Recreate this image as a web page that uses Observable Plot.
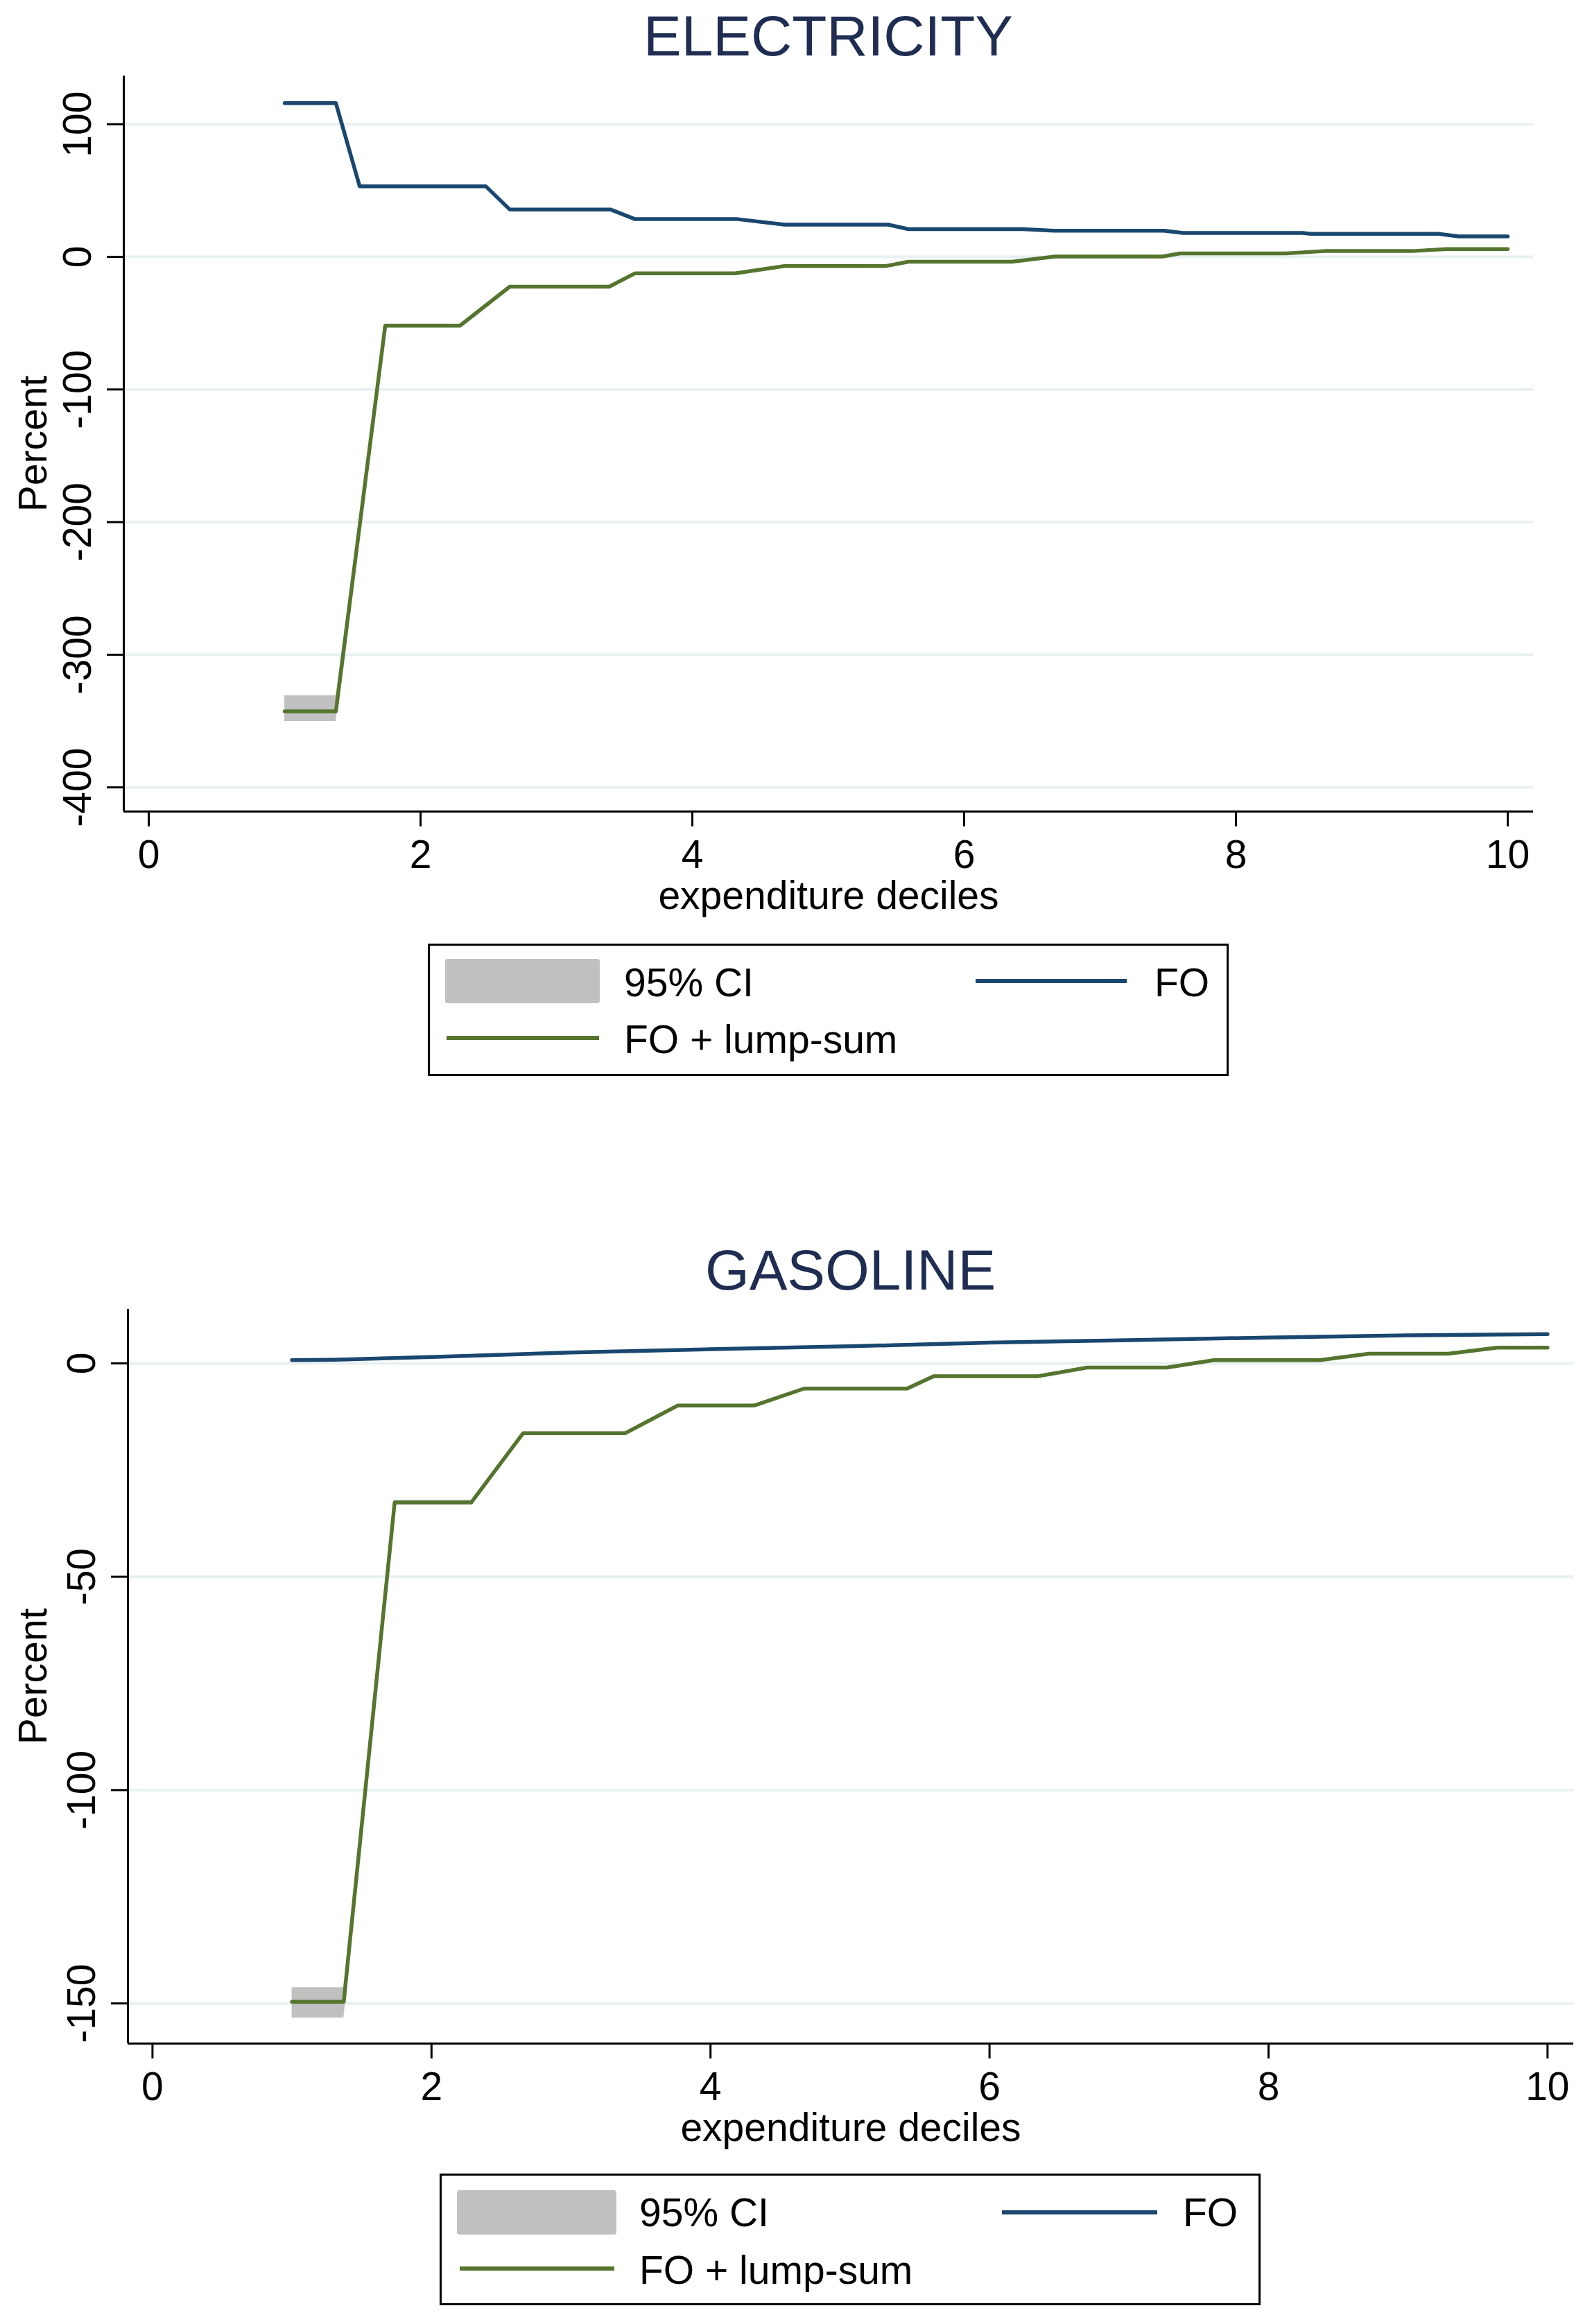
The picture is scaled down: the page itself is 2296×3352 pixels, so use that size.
<!DOCTYPE html>
<html><head><meta charset="utf-8">
<script src="https://cdn.jsdelivr.net/npm/d3@7"></script>
<script src="https://cdn.jsdelivr.net/npm/@observablehq/plot@0.6"></script>
<style>
html,body{margin:0;padding:0;background:#fff;overflow:hidden}
#page{position:relative;width:2296px;height:3352px;font-family:"Liberation Sans",Arial,Helvetica,sans-serif;background:#fff}
.title{position:absolute;text-align:center;font-size:82px;line-height:82px;color:#1f2d52;white-space:nowrap}
.legend{position:absolute;border:3px solid #000;box-sizing:border-box;background:#fff}
.lg{position:absolute;font-size:57px;line-height:57px;white-space:nowrap;color:#000}
.sw{position:absolute;background:#c0c0c0;border-radius:4px}
.ln{position:absolute;height:6px}
.svgbox{position:absolute;left:0}
</style></head>
<body><div id="page"></div>
<script>
// ---------- data ----------
const xTicks = [0, 2, 4, 6, 8, 10];
const elecYTicks = [100, 0, -100, -200, -300, -400];
const gasYTicks = [0, -50, -100, -150];

// ELECTRICITY – FO
const elecFOx  = [1, 1.377, 1.552, 2.481, 2.656, 3.397, 3.579, 4.334, 4.677, 5.44, 5.59, 6.43, 6.66, 7.47, 7.61, 8.49, 8.55, 9.49, 9.64, 10];
const elecFOy  = [115.9, 115.9, 53.1, 53.1, 35.7, 35.7, 28.4, 28.4, 24.3, 24.3, 20.9, 20.9, 19.7, 19.7, 18.0, 18.0, 17.3, 17.3, 15.4, 15.4];
const elecFOlo = [115.0, 115.0, 52.2, 52.2, 34.8, 34.8, 27.5, 27.5, 23.4, 23.4, 20.0, 20.0, 18.8, 18.8, 17.1, 17.1, 16.4, 16.4, 14.5, 14.5];
const elecFOhi = [116.8, 116.8, 54.0, 54.0, 36.6, 36.6, 29.3, 29.3, 25.2, 25.2, 21.8, 21.8, 20.6, 20.6, 18.9, 18.9, 18.2, 18.2, 16.3, 16.3];

// ELECTRICITY – FO + lump-sum
const elecLSx  = [1, 1.377, 1.740, 2.290, 2.656, 3.388, 3.579, 4.316, 4.677, 5.42, 5.59, 6.35, 6.67, 7.46, 7.59, 8.37, 8.65, 9.30, 9.55, 10];
const elecLSy  = [-342.7, -342.7, -51.9, -51.9, -22.5, -22.5, -12.4, -12.4, -7.0, -7.0, -3.7, -3.7, 0.2, 0.2, 2.6, 2.6, 4.35, 4.35, 5.9, 5.9];
const elecLSlo = [-350.2, -350.2, -53.4, -53.4, -23.5, -23.5, -13.3, -13.3, -7.9, -7.9, -4.6, -4.6, -0.7, -0.7, 1.7, 1.7, 3.4, 3.4, 5.0, 5.0];
const elecLShi = [-330.8, -330.8, -50.6, -50.6, -21.7, -21.7, -11.6, -11.6, -6.2, -6.2, -2.9, -2.9, 1.0, 1.0, 3.4, 3.4, 5.2, 5.2, 6.8, 6.8];

// GASOLINE – FO
const gasFOx  = [1, 1.3, 2, 3, 4, 5, 6, 7, 8, 9, 10];
const gasFOy  = [0.75, 0.85, 1.5, 2.55, 3.3, 4.0, 4.85, 5.45, 6.05, 6.55, 6.85];
const gasFOlo = [0.45, 0.55, 1.2, 2.25, 3.0, 3.7, 4.55, 5.15, 5.75, 6.25, 6.55];
const gasFOhi = [1.05, 1.15, 1.8, 2.85, 3.6, 4.3, 5.15, 5.75, 6.35, 6.85, 7.15];

// GASOLINE – FO + lump-sum
const gasLSx  = [1, 1.371, 1.736, 2.285, 2.656, 3.387, 3.764, 4.312, 4.672, 5.41, 5.60, 6.35, 6.70, 7.27, 7.61, 8.37, 8.72, 9.29, 9.64, 10];
const gasLSy  = [-149.6, -149.6, -32.6, -32.6, -16.4, -16.4, -9.9, -9.9, -5.9, -5.9, -3.0, -3.0, -1.0, -1.0, 0.75, 0.75, 2.25, 2.25, 3.7, 3.7];
const gasLSlo = [-153.4, -153.4, -33.2, -33.2, -16.8, -16.8, -10.2, -10.2, -6.2, -6.2, -3.3, -3.3, -1.3, -1.3, 0.45, 0.45, 1.95, 1.95, 3.4, 3.4];
const gasLShi = [-146.3, -146.3, -32.1, -32.1, -16.0, -16.0, -9.6, -9.6, -5.6, -5.6, -2.7, -2.7, -0.7, -0.7, 1.05, 1.05, 2.55, 2.55, 4.0, 4.0];

const legendLabels = ["95% CI", "FO", "FO + lump-sum"];

// ---------- styles ----------
const NAVY = "#1a476f", GREEN = "#55752f", CI = "#c0c0c0", GRID = "#e8f0f2";
const FONT = '"Liberation Sans", Arial, Helvetica, sans-serif';

function rows(xs, ys, lo, hi) {
  return xs.map((x, i) => ({x, y: ys[i], lo: lo[i], hi: hi[i]}));
}

function panel(cfg) {
  const series = cfg.series;
  const chart = Plot.plot({
    width: 2296,
    height: cfg.height,
    marginTop: cfg.mt, marginBottom: cfg.mb, marginLeft: cfg.ml, marginRight: cfg.mr,
    style: {fontFamily: FONT, fontSize: "57px", background: "#fff", color: "#000", overflow: "visible"},
    x: {domain: cfg.xDom},
    y: {domain: cfg.yDom},
    marks: [
      Plot.ruleY(cfg.yTicks, {stroke: GRID, strokeWidth: 4}),
      ...series.map(s => Plot.areaY(s.data, {x: "x", y1: "lo", y2: "hi", fill: CI})),
      ...series.map(s => Plot.line(s.data, {x: "x", y: "y", stroke: s.color, strokeWidth: 5.5, strokeLinejoin: "round", strokeLinecap: "round"})),
      Plot.ruleX([cfg.xDom[0]], {stroke: "#000", strokeWidth: 3}),
      Plot.ruleY([cfg.yDom[0]], {stroke: "#000", strokeWidth: 3}),
      Plot.axisX({ticks: xTicks, tickSize: 22, tickPadding: 19, strokeWidth: 3, tickFormat: d => String(d), label: null, fill: "#000"}),
      Plot.axisY({ticks: cfg.yTicks, tickSize: 24, tickPadding: 24, tickRotate: -90, textAnchor: "middle", lineAnchor: "bottom",
                  strokeWidth: 3, tickFormat: d => String(d), label: null, fill: "#000"}),
      Plot.text(["Percent"], {text: d => d, frameAnchor: "left", dx: cfg.labelDx, rotate: -90, textAnchor: "middle", lineAnchor: "bottom", fill: "#000"}),
      Plot.text(["expenditure deciles"], {text: d => d, frameAnchor: "bottom", dy: 140, textAnchor: "middle", lineAnchor: "bottom", fill: "#000"})
    ]
  });
  const box = document.createElement("div");
  box.className = "svgbox";
  box.style.top = cfg.top + "px";
  box.appendChild(chart);
  return box;
}

function legend(L) {
  const b = document.createElement("div");
  b.className = "legend";
  Object.assign(b.style, {left: L.left + "px", top: L.top + "px", width: L.w + "px", height: L.h + "px"});
  const add = (cls, st, txt) => {
    const e = document.createElement("div");
    e.className = cls;
    Object.assign(e.style, st);
    if (txt) e.textContent = txt;
    b.appendChild(e);
  };
  const o = 3;
  add("sw", {left: (L.sw[0] - o) + "px", top: (L.sw[1] - o) + "px", width: L.sw[2] + "px", height: L.sw[3] + "px"});
  add("lg", {left: (L.t1[0] - o) + "px", top: (L.t1[1] - o - 27.85) + "px"}, legendLabels[0]);
  add("ln", {left: (L.l1[0] - o) + "px", top: (L.l1[1] - o - 3) + "px", width: L.l1[2] + "px", background: NAVY});
  add("lg", {left: (L.t2[0] - o) + "px", top: (L.t2[1] - o - 27.85) + "px"}, legendLabels[1]);
  add("ln", {left: (L.l2[0] - o) + "px", top: (L.l2[1] - o - 3) + "px", width: L.l2[2] + "px", background: GREEN});
  add("lg", {left: (L.t3[0] - o) + "px", top: (L.t3[1] - o - 27.85) + "px"}, legendLabels[2]);
  return b;
}

function title(text, left, width, top) {
  const t = document.createElement("div");
  t.className = "title";
  Object.assign(t.style, {left: left + "px", width: width + "px", top: top + "px"});
  t.textContent = text;
  return t;
}

const page = document.getElementById("page");

// ELECTRICITY
page.appendChild(title("ELECTRICITY", 178, 2033, 10.6));
page.appendChild(panel({
  top: 100, height: 1240, mt: 9, mb: 170, ml: 178, mr: 85,
  xDom: [-0.184, 10.189], yDom: [-418.2, 136.4], yTicks: elecYTicks, labelDx: -112,
  series: [
    {data: rows(elecFOx, elecFOy, elecFOlo, elecFOhi), color: NAVY},
    {data: rows(elecLSx, elecLSy, elecLSlo, elecLShi), color: GREEN}
  ]
}));
page.appendChild(legend({left: 617, top: 1361, w: 1155, h: 191,
  sw: [25, 22, 223, 64], t1: [283, 56], l1: [790, 54, 218], t2: [1048, 56], l2: [27, 136, 220], t3: [283, 138]}));

// GASOLINE
page.appendChild(title("GASOLINE", 184, 2085, 1790.6));
page.appendChild(panel({
  top: 1880, height: 1237, mt: 8, mb: 170, ml: 184, mr: 27,
  xDom: [-0.176, 10.187], yDom: [-159.4, 12.66], yTicks: gasYTicks, labelDx: -118,
  series: [
    {data: rows(gasFOx, gasFOy, gasFOlo, gasFOhi), color: NAVY},
    {data: rows(gasLSx, gasLSy, gasLSlo, gasLShi), color: GREEN}
  ]
}));
page.appendChild(legend({left: 634, top: 3135, w: 1184, h: 190,
  sw: [25, 24, 230, 64], t1: [288, 56], l1: [811, 56, 224], t2: [1072, 56], l2: [29, 137, 223], t3: [288, 139]}));
</script>
</body></html>
